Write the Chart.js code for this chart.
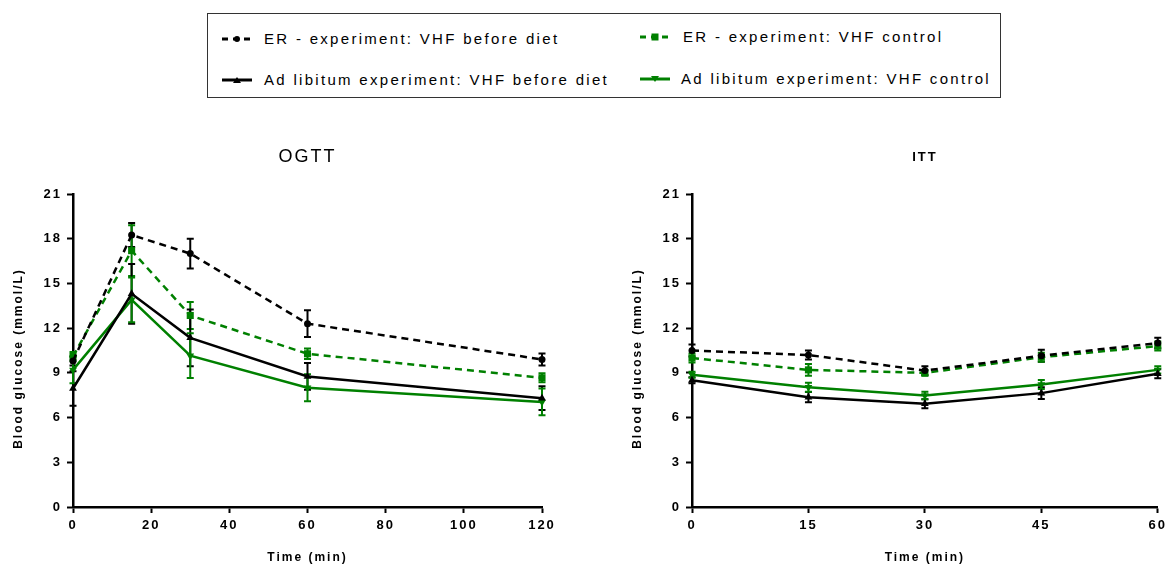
<!DOCTYPE html>
<html>
<head>
<meta charset="utf-8">
<script src="https://cdn.jsdelivr.net/npm/chart.js@4.4.1/dist/chart.umd.min.js"></script>
<style>
  body { margin: 0; background: #fff; width: 1172px; height: 566px; position: relative; overflow: hidden; font-family: 'Liberation Sans', Arial, sans-serif; }
  #legend { position: absolute; left: 207px; top: 13px; width: 792px; height: 83px; border: 1.5px solid #333; }
  .item { position: absolute; font-size: 15px; letter-spacing: 2.3px; color: #000; white-space: nowrap; line-height: 18px; }
  .item svg { position: absolute; top: 3px; }
  .wrap { position: absolute; top: 140px; }
</style>
</head>
<body>
<div id="legend"></div>
<div class="wrap" style="left:0px"><canvas id="ogtt" width="580" height="426"></canvas></div>
<div class="wrap" style="left:590px"><canvas id="itt" width="582" height="426"></canvas></div>
<script>
// series names (legend order)
const seriesNames = [
  'ER - experiment: VHF before diet',
  'ER - experiment: VHF control',
  'Ad libitum experiment: VHF before diet',
  'Ad libitum experiment: VHF control'
];

// OGTT, blood glucose in mmol/L (mean and error)
const ogttTimes = [0, 15, 30, 60, 120];
const ogttErBefore = [9.8, 18.25, 17.0, 12.3, 9.9];
const ogttErBeforeErr = [0.3, 0.8, 1.0, 0.9, 0.4];
const ogttErControl = [10.1, 17.2, 12.85, 10.28, 8.67];
const ogttErControlErr = [0.3, 1.7, 0.9, 0.35, 0.3];
const ogttAdBefore = [7.95, 14.3, 11.35, 8.76, 7.3];
const ogttAdBeforeErr = [1.15, 2.0, 1.9, 0.9, 0.8];
const ogttAdControl = [9.2, 13.9, 10.15, 8.0, 7.05];
const ogttAdControlErr = [0.9, 1.5, 1.5, 0.9, 0.9];

// ITT
const ittTimes = [0, 15, 30, 45, 60];
const ittErBefore = [10.5, 10.2, 9.15, 10.15, 11.0];
const ittErBeforeErr = [0.4, 0.3, 0.3, 0.4, 0.35];
const ittErControl = [10.0, 9.2, 9.0, 10.05, 10.8];
const ittErControlErr = [0.3, 0.4, 0.2, 0.3, 0.3];
const ittAdBefore = [8.5, 7.37, 6.93, 7.64, 8.94];
const ittAdBeforeErr = [0.2, 0.35, 0.3, 0.4, 0.3];
const ittAdControl = [8.87, 8.04, 7.48, 8.22, 9.2];
const ittAdControlErr = [0.2, 0.3, 0.25, 0.3, 0.25];

const yTicks = [0, 3, 6, 9, 12, 15, 18, 21];

const FONT = "'Liberation Sans', Arial, sans-serif";
const GREEN = '#008000';

const styles = [
  { color: '#000', dash: [7, 5], pointStyle: 'circle', radius: 3.5, rotation: 0 },
  { color: GREEN, dash: [7, 5], pointStyle: 'rect', radius: 5, rotation: 0 },
  { color: '#000', dash: [], pointStyle: 'triangle', radius: 4.5, rotation: 0 },
  { color: GREEN, dash: [], pointStyle: 'triangle', radius: 4.5, rotation: 180 }
];

// legend box (html)
const legendSpots = [[14, 16], [432, 14], [14, 57], [432, 56]];
const legendText = [56, 475, 56, 473];
const legend = document.getElementById('legend');
seriesNames.forEach((name, i) => {
  const s = styles[i];
  const div = document.createElement('div');
  div.className = 'item';
  div.style.left = legendText[i] + 'px';
  div.style.top = legendSpots[i][1] + 'px';
  const dx = legendSpots[i][0] - legendText[i];
  let marker;
  if (s.pointStyle === 'circle') marker = '<circle cx="15" cy="6" r="3" fill="#000"/>';
  else if (s.pointStyle === 'rect') marker = '<rect x="11.5" y="2.5" width="7" height="7" fill="' + GREEN + '"/>';
  else if (s.rotation) marker = '<path d="M11 3 L19 3 L15 9 Z" fill="' + s.color + '"/>';
  else marker = '<path d="M11 9 L19 9 L15 3 Z" fill="' + s.color + '"/>';
  const line = s.dash.length
    ? '<line x1="0" y1="6" x2="30" y2="6" stroke="' + s.color + '" stroke-width="3" stroke-dasharray="6 5"/>'
    : '<line x1="0" y1="6" x2="30" y2="6" stroke="' + s.color + '" stroke-width="3"/>';
  div.innerHTML = '<svg width="30" height="12" style="left:' + dx + 'px">' + line + marker + '</svg>' + name;
  legend.appendChild(div);
});

// vertical error bars with caps
const errorBars = {
  id: 'errorBars',
  beforeDatasetsDraw(chart) {
    const { ctx, scales: { x, y } } = chart;
    chart.data.datasets.forEach((ds) => {
      ctx.save();
      ctx.strokeStyle = ds.borderColor;
      ctx.lineWidth = 2;
      ds.data.forEach((p, j) => {
        const e = ds.errors[j];
        const px = x.getPixelForValue(p.x);
        const top = y.getPixelForValue(p.y + e);
        const bot = y.getPixelForValue(p.y - e);
        ctx.beginPath();
        ctx.moveTo(px, top); ctx.lineTo(px, bot);
        ctx.moveTo(px - 3.5, top); ctx.lineTo(px + 3.5, top);
        ctx.moveTo(px - 3.5, bot); ctx.lineTo(px + 3.5, bot);
        ctx.stroke();
      });
      ctx.restore();
    });
  }
};

// spaced-out lettering on the canvas text
const spacing = {
  id: 'spacing',
  beforeUpdate(chart) { chart.ctx.letterSpacing = '2px'; },
  beforeDraw(chart) { chart.ctx.letterSpacing = '2px'; }
};

function makeDatasets(times, values, errors) {
  return values.map((vals, i) => ({
    label: seriesNames[i],
    data: times.map((t, j) => ({ x: t, y: vals[j] })),
    errors: errors[i],
    borderColor: styles[i].color,
    backgroundColor: styles[i].color,
    borderWidth: 2.5,
    borderDash: styles[i].dash,
    pointStyle: styles[i].pointStyle,
    pointRadius: styles[i].radius,
    pointRotation: styles[i].rotation,
    pointBorderWidth: 0,
    tension: 0,
    clip: false
  }));
}

function makeChart(id, cfg) {
  return new Chart(document.getElementById(id), {
    type: 'line',
    data: { datasets: makeDatasets(cfg.times, cfg.values, cfg.errors) },
    plugins: [spacing, errorBars],
    options: {
      responsive: false,
      animation: false,
      layout: { padding: { left: 0, right: cfg.rightPad, top: 0, bottom: 0 } },
      plugins: {
        legend: { display: false },
        tooltip: { enabled: false },
        title: {
          display: true,
          fullSize: false,
          text: cfg.title,
          color: '#000',
          font: cfg.titleFont,
          padding: cfg.titlePad
        }
      },
      scales: {
        x: {
          type: 'linear',
          min: cfg.times[0],
          max: cfg.times[cfg.times.length - 1],
          afterFit: (s) => { s.height = 59; },
          ticks: { stepSize: cfg.xStep, color: '#000', padding: 5, font: { family: FONT, size: 13, weight: 'bold' } },
          grid: { drawOnChartArea: false, tickLength: 6, tickWidth: 2, tickColor: '#000' },
          border: { color: '#000', width: 2.5 },
          title: { display: true, text: 'Time (min)', color: '#000', font: { family: FONT, size: 12, weight: 'bold' }, padding: { top: 0, bottom: 1 } }
        },
        y: {
          min: 0,
          max: 21,
          afterFit: (s) => { s.width = cfg.yWidth; },
          afterBuildTicks: (s) => { s.ticks = yTicks.map((v) => ({ value: v })); },
          ticks: { color: '#000', padding: 5, font: { family: FONT, size: 13, weight: 'bold' } },
          grid: { drawOnChartArea: false, tickLength: 6, tickWidth: 2, tickColor: '#000' },
          border: { color: '#000', width: 2.5 },
          title: { display: true, text: 'Blood glucose (mmol/L)\u00a0\u00a0\u00a0', color: '#000', font: { family: FONT, size: 12, weight: 'bold' }, padding: { top: cfg.yTitlePad, bottom: 0 } }
        }
      }
    }
  });
}

makeChart('ogtt', {
  title: 'OGTT',
  titleFont: { family: FONT, size: 18, weight: 'normal', lineHeight: 1.2 },
  titlePad: { top: 6.2, bottom: 26.2 },
  times: ogttTimes,
  values: [ogttErBefore, ogttErControl, ogttAdBefore, ogttAdControl],
  errors: [ogttErBeforeErr, ogttErControlErr, ogttAdBeforeErr, ogttAdControlErr],
  xStep: 20,
  yWidth: 73,
  yTitlePad: 11,
  rightPad: 38
});

makeChart('itt', {
  title: 'ITT',
  titleFont: { family: FONT, size: 13, weight: 'bold', lineHeight: 1.2 },
  titlePad: { top: 9.2, bottom: 29.2 },
  times: ittTimes,
  values: [ittErBefore, ittErControl, ittAdBefore, ittAdControl],
  errors: [ittErBeforeErr, ittErControlErr, ittAdBeforeErr, ittAdControlErr],
  xStep: 15,
  yWidth: 102,
  yTitlePad: 40,
  rightPad: 13
});
</script>
</body>
</html>
